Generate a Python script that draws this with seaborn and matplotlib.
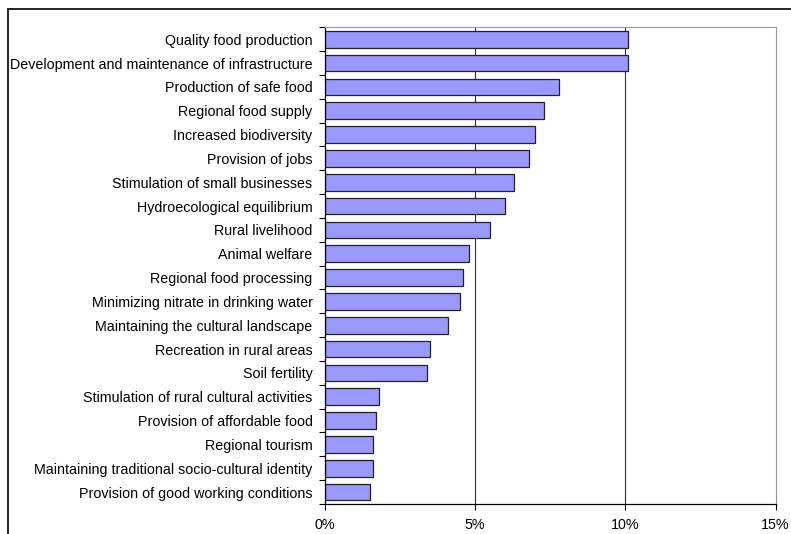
import matplotlib
matplotlib.use("Agg")
import matplotlib.pyplot as plt
import seaborn as sns
import pandas as pd
from matplotlib.lines import Line2D
from matplotlib.ticker import FixedLocator

categories = [
    "Quality food production",
    "Development and maintenance of infrastructure",
    "Production of safe food",
    "Regional food supply",
    "Increased biodiversity",
    "Provision of jobs",
    "Stimulation of small businesses",
    "Hydroecological equilibrium",
    "Rural livelihood",
    "Animal welfare",
    "Regional food processing",
    "Minimizing nitrate in drinking water",
    "Maintaining the cultural landscape",
    "Recreation in rural areas",
    "Soil fertility",
    "Stimulation of rural cultural activities",
    "Provision of affordable food",
    "Regional tourism",
    "Maintaining traditional socio-cultural identity",
    "Provision of good working conditions",
]
values = [10.1, 10.1, 7.8, 7.3, 7.0, 6.8, 6.3, 6.0, 5.5, 4.8,
          4.6, 4.5, 4.1, 3.5, 3.4, 1.8, 1.7, 1.6, 1.6, 1.5]
x_ticks = [0, 5, 10, 15]
x_tick_labels = ["0%", "5%", "10%", "15%"]

df = pd.DataFrame({"category": categories, "value": values})

sns.set_style("white")
plt.rcParams["font.family"] = ["Liberation Sans", "DejaVu Sans"]
plt.rcParams["text.color"] = "black"
plt.rcParams["xtick.color"] = "black"
plt.rcParams["ytick.color"] = "black"
plt.rcParams["axes.labelcolor"] = "black"

FS = 10.3

fig = plt.figure(figsize=(7.91, 5.34), dpi=100)
ax = fig.add_axes([325 / 791, 1 - 504 / 534, (775.5 - 325) / 791, (504 - 27.3) / 534])

sns.barplot(data=df, x="value", y="category", orient="h", color="#9999FF",
            saturation=1, edgecolor="#222222", linewidth=0.9, width=0.7, ax=ax)

ax.set_xlim(0, 15)
ax.set_ylim(len(categories) - 0.5, -0.5)
ax.set_xticks(x_ticks)
ax.set_xticklabels(x_tick_labels, fontsize=FS)
ax.set_xlabel("")
ax.set_ylabel("")
ax.tick_params(axis="y", labelsize=FS, length=0, pad=9, labelcolor="black")
ax.tick_params(axis="x", length=4, width=0.8, direction="out", color="black", pad=6,
               bottom=True, labelcolor="black")

# y-axis boundary ticks
ax.yaxis.set_minor_locator(FixedLocator([i - 0.5 for i in range(len(categories) + 1)]))
ax.tick_params(axis="y", which="minor", length=4, width=0.8, color="black", direction="out", left=True)

# gridlines
for xv in [5, 10]:
    ax.axvline(xv, color="#333333", linewidth=0.8, zorder=0)

for s in ["top", "right"]:
    ax.spines[s].set_visible(True)
    ax.spines[s].set_color("#999999")
    ax.spines[s].set_linewidth(0.8)
for s in ["left", "bottom"]:
    ax.spines[s].set_visible(True)
    ax.spines[s].set_color("black")
    ax.spines[s].set_linewidth(0.9)

# figure frame (top and left visible)
fig.add_artist(Line2D([8 / 791, 1.0], [1 - 9 / 534, 1 - 9 / 534], transform=fig.transFigure,
                      color="black", linewidth=1.2))
fig.add_artist(Line2D([8 / 791, 8 / 791], [0.0, 1 - 9 / 534], transform=fig.transFigure,
                      color="black", linewidth=1.2))

fig.savefig("out.png", dpi=100)
